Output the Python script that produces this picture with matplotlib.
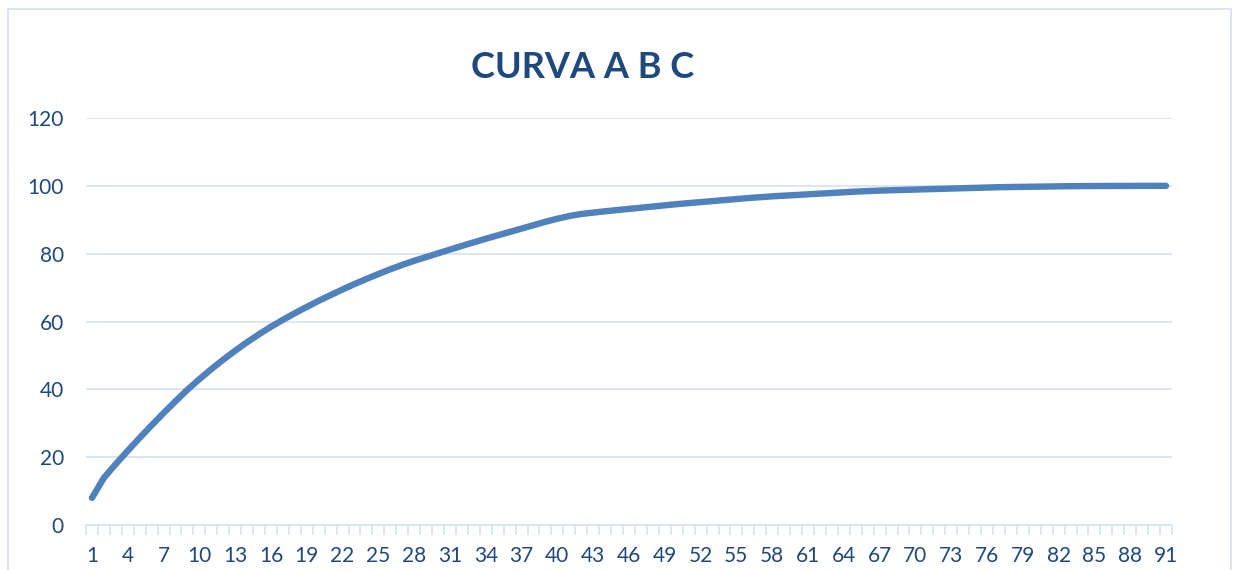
import matplotlib.pyplot as plt
from matplotlib.patches import Rectangle
from matplotlib.ticker import FixedLocator
import numpy as np

# datos (porcentaje acumulado)
categorias = list(range(1, 92))
acumulado = [
    8.0, 13.9, 18.0, 21.9, 25.7, 29.4, 33.0, 36.5, 39.9, 43.0,
    45.95, 48.75, 51.4, 53.9, 56.25, 58.45, 60.5, 62.45, 64.3, 66.1,
    67.8, 69.45, 71.05, 72.55, 74.0, 75.4, 76.7, 77.9, 79.0, 80.1,
    81.2, 82.3, 83.35, 84.4, 85.4, 86.4, 87.4, 88.4, 89.4, 90.3,
    91.1, 91.7, 92.1, 92.5, 92.85, 93.2, 93.55, 93.9, 94.25, 94.6,
    94.9, 95.2, 95.5, 95.8, 96.1, 96.4, 96.65, 96.9, 97.1, 97.3,
    97.5, 97.7, 97.9, 98.1, 98.3, 98.45, 98.6, 98.7, 98.8, 98.9,
    99.0, 99.1, 99.2, 99.3, 99.4, 99.5, 99.6, 99.65, 99.7, 99.75,
    99.8, 99.85, 99.9, 99.92, 99.94, 99.96, 99.97, 99.98, 99.99, 100.0,
    100.0,
]
etiquetas_x = categorias[::3]
titulo = "CURVA A B C"

azul = "#4F81BD"
rejilla = "#D9E3F2"
texto = "#1F497D"

plt.rcParams['font.family'] = ['Lato', 'DejaVu Sans']

fig = plt.figure(figsize=(12.33, 5.70), dpi=100)
ax = fig.add_axes([86/1233, 1 - 525/570, (1172-86)/1233, (525-118)/570])

# marco del grafico
fig.patches.append(Rectangle((8/1233, -0.1), (1231-8)/1233, 1.1 - 9/570,
                             transform=fig.transFigure, fill=False,
                             edgecolor="#D6DFEC", linewidth=1.2))

ax.plot(categorias, acumulado, color=azul, linewidth=4.6,
        solid_capstyle="round", solid_joinstyle="round", zorder=3)

ax.set_xlim(0.5, 91.5)
ax.set_ylim(0, 120)
ax.set_yticks(range(0, 121, 20))
ax.yaxis.grid(True, color=rejilla, linewidth=1.3)
ax.set_axisbelow(True)

ax.set_xticks(etiquetas_x)
ax.xaxis.set_minor_locator(FixedLocator(np.arange(0.5, 92, 1)))
ax.tick_params(axis="x", which="major", length=0, pad=15,
               labelsize=15, labelcolor=texto)
ax.tick_params(axis="x", which="minor", length=7, width=1.2, color=rejilla)
ax.tick_params(axis="y", length=0, pad=16, labelsize=15, labelcolor=texto)

for lado in ["top", "right", "left"]:
    ax.spines[lado].set_visible(False)
ax.spines["bottom"].set_color(rejilla)
ax.spines["bottom"].set_linewidth(1.3)

fig.text(583/1233, 1 - 67/570, titulo, ha="center", va="center",
         fontsize=26, fontweight="bold", color=texto)

fig.savefig("out.png", dpi=100)
